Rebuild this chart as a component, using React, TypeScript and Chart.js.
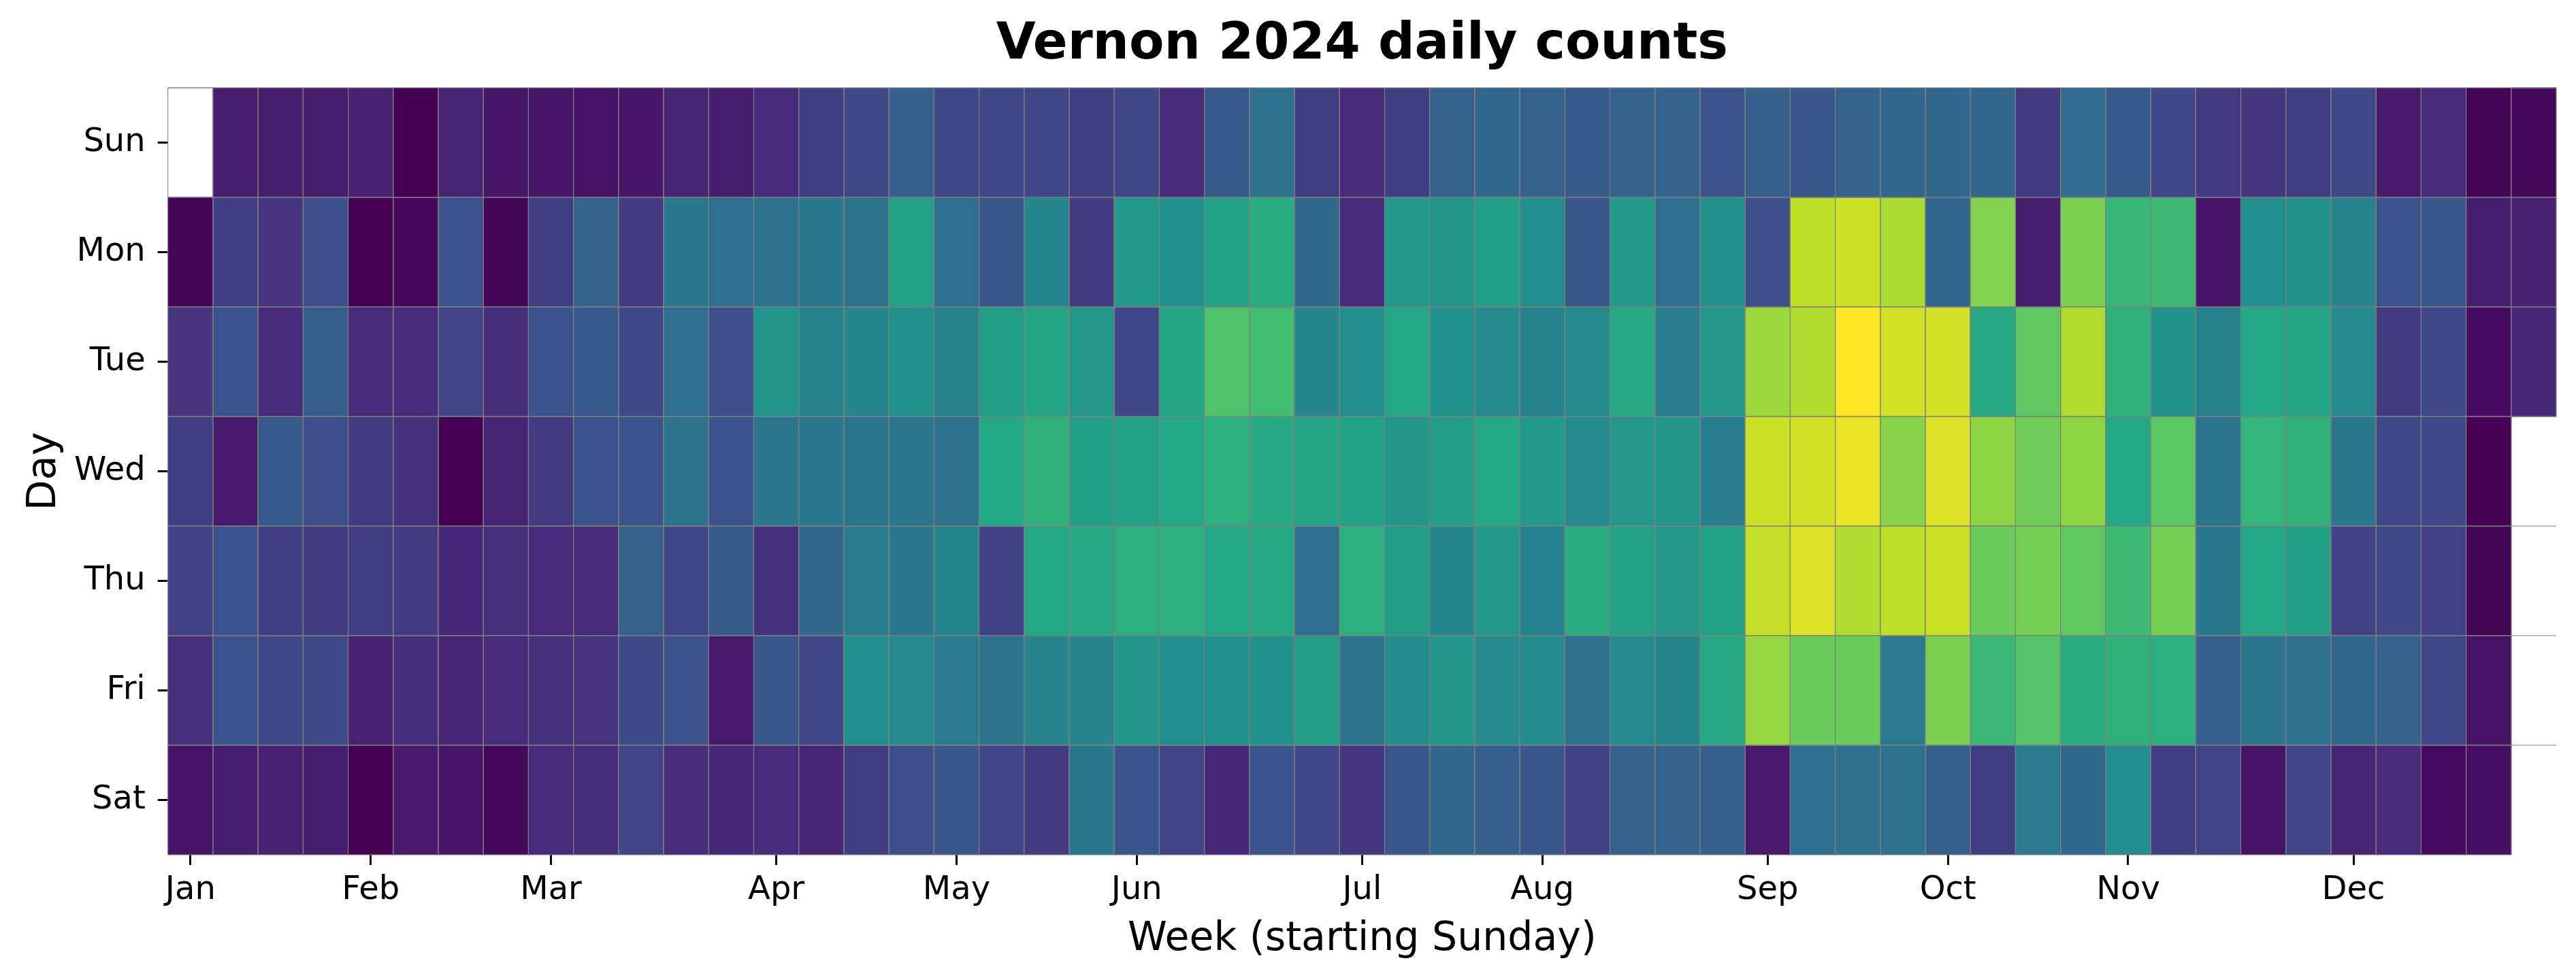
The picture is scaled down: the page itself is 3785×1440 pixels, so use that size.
import React, { useEffect, useRef } from "react";
import { Chart, registerables } from "chart.js";

Chart.register(...registerables);

const chartTitle = "Vernon 2024 daily counts";
const xAxisTitle = "Week (starting Sunday)";
const yAxisTitle = "Day";
const days = ["Sun", "Mon", "Tue", "Wed", "Thu", "Fri", "Sat"];
const monthNames = ["Jan", "Feb", "Mar", "Apr", "May", "Jun", "Jul", "Aug", "Sep", "Oct", "Nov", "Dec"];
const monthWeeks = [0, 4, 8, 13, 17, 21, 26, 30, 35, 39, 43, 48];

const sun = [null, 8, 8, 8, 9, 0, 10, 6, 6, 5, 6, 10, 8, 12, 18, 22, 30, 21, 21, 21, 18, 21, 12, 28, 37, 18, 12, 18, 31, 33, 31, 28, 31, 32, 25, 30, 27, 32, 33, 33, 33, 17, 35, 28, 22, 17, 16, 18, 22, 7, 12, 1, 2];
const mon = [1, 18, 15, 24, 0, 2, 25, 1, 18, 32, 17, 40, 36, 37, 40, 38, 57, 36, 27, 46, 17, 54, 50, 57, 62, 34, 12, 54, 52, 56, 49, 27, 54, 36, 50, 24, 90, 92, 87, 33, 81, 8, 80, 66, 68, 6, 49, 51, 44, 25, 27, 8, 9];
const tue = [15, 26, 12, 30, 12, 12, 20, 13, 26, 28, 22, 36, 24, 52, 44, 46, 50, 44, 55, 59, 53, 21, 59, 72, 69, 46, 49, 60, 50, 47, 44, 47, 61, 42, 53, 85, 88, 100, 93, 93, 61, 75, 88, 64, 51, 44, 60, 59, 47, 17, 22, 3, 11];
const wed = [18, 7, 28, 24, 17, 14, 0, 10, 17, 25, 26, 38, 25, 39, 40, 39, 39, 37, 60, 64, 56, 57, 60, 63, 61, 59, 58, 52, 55, 60, 54, 47, 53, 52, 42, 92, 93, 97, 82, 95, 83, 78, 83, 60, 74, 39, 65, 64, 40, 22, 22, 0, null];
const thu = [19, 26, 18, 17, 18, 17, 11, 14, 12, 12, 31, 21, 29, 14, 33, 42, 40, 46, 19, 60, 61, 63, 63, 60, 61, 36, 63, 55, 46, 54, 43, 62, 58, 53, 58, 91, 95, 88, 90, 92, 77, 79, 75, 68, 79, 40, 60, 56, 19, 22, 19, 1, null];
const fri = [14, 26, 21, 23, 9, 13, 10, 12, 14, 15, 23, 25, 7, 27, 21, 49, 47, 41, 38, 45, 45, 52, 49, 50, 50, 55, 38, 48, 52, 47, 48, 37, 47, 46, 61, 84, 77, 77, 41, 80, 67, 73, 62, 64, 63, 30, 39, 37, 33, 31, 21, 5, null];
const sat = [5, 8, 9, 8, 0, 7, 6, 2, 12, 13, 20, 12, 11, 12, 10, 18, 24, 27, 20, 17, 40, 25, 20, 11, 25, 21, 16, 27, 33, 30, 27, 19, 31, 32, 30, 7, 36, 37, 37, 30, 18, 41, 34, 49, 18, 20, 5, 20, 10, 12, 3, 4, null];
const dayValues = [sun, mon, tue, wed, thu, fri, sat];

const colourMax = 100;
const viridis = ["#440154", "#482475", "#414487", "#355f8d", "#2a788e", "#21918c", "#22a884", "#44bf70", "#7ad151", "#bddf26", "#fde725"];
const edgeColour = "#808080";
const fontFamily = '"DejaVu Sans"';

function colourFor(v: number | null): string {
  if (v === null || v === undefined) return "rgba(0,0,0,0)";
  const t = Math.max(0, Math.min(1, v / colourMax)) * (viridis.length - 1);
  const i = Math.min(Math.floor(t), viridis.length - 2);
  const f = t - i;
  const hex = (s: string, k: number) => parseInt(s.slice(1 + k * 2, 3 + k * 2), 16);
  const c = [0, 1, 2].map((k) => Math.round(hex(viridis[i], k) * (1 - f) + hex(viridis[i + 1], k) * f));
  return `rgb(${c[0]},${c[1]},${c[2]})`;
}

const weekLabels = sun.map((_, w) => {
  const m = monthWeeks.indexOf(w);
  return m >= 0 ? monthNames[m] : "";
});

const cellEdges = {
  id: "cellEdges",
  afterDatasetsDraw(chart: any) {
    const { ctx, scales } = chart;
    ctx.save();
    ctx.strokeStyle = edgeColour;
    ctx.lineWidth = 1.1;
    chart.getSortedVisibleDatasetMetas().forEach((meta: any) => {
      meta.data.forEach((el: any) => {
        if (el.skip) return;
        const { x, y, base, width } = el.getProps(["x", "y", "base", "width"], true);
        ctx.strokeRect(x - width / 2, Math.min(y, base), width, Math.abs(base - y));
      });
    });
    // empty cells of the calendar keep part of the mesh outline
    const band = scales.x.getPixelForValue(1) - scales.x.getPixelForValue(0);
    dayValues.forEach((vals, d) => {
      vals.forEach((v, w) => {
        if (v !== null) return;
        const cx = scales.x.getPixelForValue(w);
        const top = scales.y.getPixelForValue(d);
        const bottom = scales.y.getPixelForValue(d + 1);
        if (w === 0) {
          ctx.strokeRect(cx - band / 2, top, band, bottom - top);
        } else {
          ctx.beginPath();
          ctx.moveTo(cx - band / 2, top);
          ctx.lineTo(cx + band / 2, top);
          ctx.stroke();
        }
      });
    });
    ctx.restore();
  },
};

export default function App() {
  const ref = useRef<HTMLCanvasElement | null>(null);
  useEffect(() => {
    document.body.style.margin = "0";
    document.body.style.background = "#fff";
    const chart = new Chart(ref.current as HTMLCanvasElement, {
      type: "bar",
      plugins: [cellEdges],
      data: {
        labels: weekLabels,
        datasets: dayValues.map((vals, d) => ({
          label: days[d],
          data: vals.map((v) => (v === null ? null : [d, d + 1])),
          backgroundColor: vals.map(colourFor),
          borderWidth: 0,
          inflateAmount: 0.5,
          barPercentage: 1,
          categoryPercentage: 1,
          grouped: false,
        })),
      } as any,
      options: {
        responsive: false,
        animation: false,
        devicePixelRatio: 1,
        layout: { padding: { right: 29 } },
        plugins: {
          legend: { display: false },
          tooltip: { enabled: false },
          title: {
            display: true,
            fullSize: false,
            text: chartTitle,
            color: "#000",
            font: { family: fontFamily, size: 75, weight: "bold", lineHeight: 1.2 },
            padding: { top: 22, bottom: 17 },
          },
        },
        scales: {
          x: {
            type: "category",
            offset: true,
            afterFit: (s: any) => { s.height = 184; },
            afterBuildTicks: (s: any) => { s.ticks = monthWeeks.map((w) => ({ value: w })); },
            grid: { display: true, offset: false, drawOnChartArea: false, drawTicks: true, tickLength: 15, tickWidth: 3, tickColor: "#000" },
            border: { display: false },
            ticks: { autoSkip: false, maxRotation: 0, minRotation: 0, color: "#000", padding: 9, font: { family: fontFamily, size: 48 } },
            title: { display: true, text: xAxisTitle, color: "#000", font: { family: fontFamily, size: 58.5 }, padding: { top: 0, bottom: 24 } },
          },
          y: {
            type: "linear",
            min: 0,
            max: 7,
            reverse: true,
            afterFit: (s: any) => { s.width = 246.7; },
            afterBuildTicks: (s: any) => { s.ticks = days.map((_, i) => ({ value: i + 0.5 })); },
            grid: { display: true, drawOnChartArea: false, drawTicks: true, tickLength: 15, tickWidth: 3, tickColor: "#000" },
            border: { display: false },
            ticks: { color: "#000", padding: 18, font: { family: fontFamily, size: 48 }, callback: (v: any) => days[Number(v) - 0.5] },
            title: { display: true, text: yAxisTitle, color: "#000", font: { family: fontFamily, size: 58.5 }, padding: { top: 31, bottom: 0 } },
          },
        },
      },
    } as any);
    return () => chart.destroy();
  }, []);
  return (
    <div style={{ width: 3785, height: 1440, background: "#fff" }}>
      <canvas ref={ref} width={3785} height={1440} style={{ display: "block", width: 3785, height: 1440 }} />
    </div>
  );
}
